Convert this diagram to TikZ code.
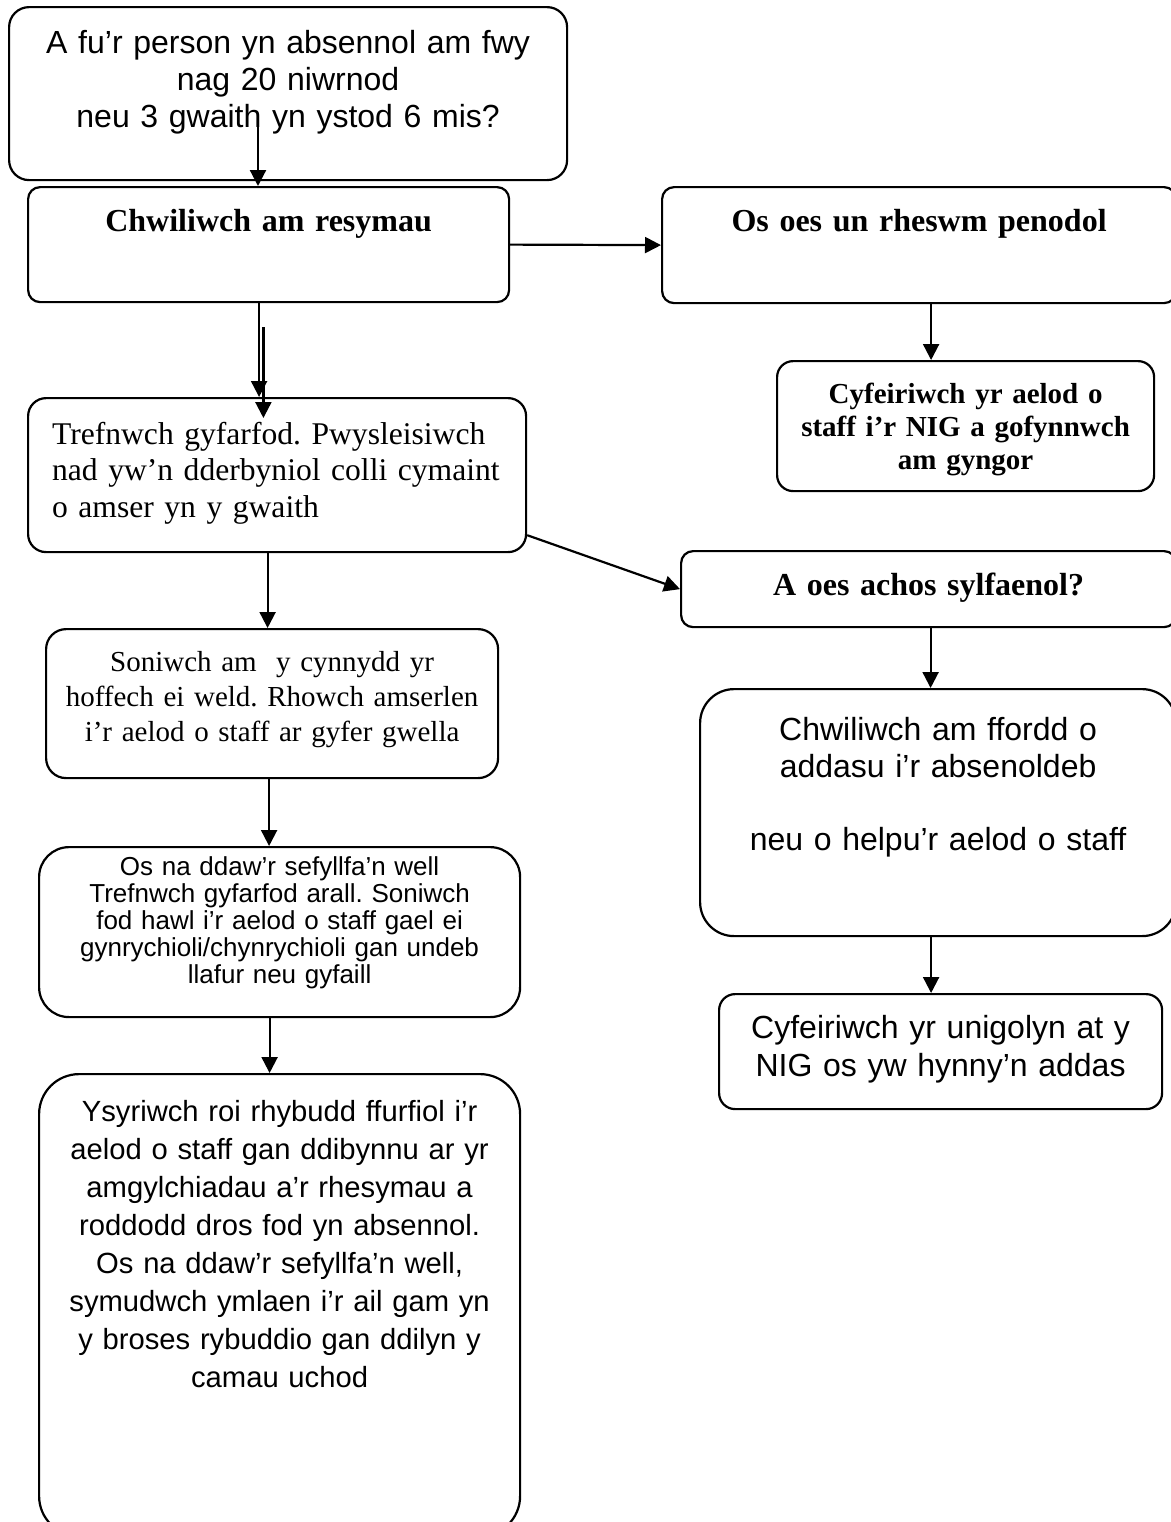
\documentclass[tikz,border=0pt]{standalone}
\usepackage{fontspec}
\newfontfamily\arialfont{Liberation Sans}
\newfontfamily\timesfont{Liberation Serif}
\usetikzlibrary{arrows.meta}
\frenchspacing

\begin{document}
\begin{tikzpicture}[x=0.5pt,y=-0.5pt,->,>={Triangle[length=8pt,width=8pt]},
                    line width=1.1pt,
                    box/.style={draw,rounded corners=#1,anchor=north west,inner sep=0pt,align=center},
                    box/.default=7pt,
                    sans/.style={font=\arialfont\fontsize{16}{18.7}\selectfont},
                    head/.style={font=\timesfont\bfseries\fontsize{16}{18.4}\selectfont}]

  \useasboundingbox (0,0) rectangle (1171,1522);

  % left column
  \node[box=10pt,sans,minimum width=279pt,text width=270pt,text height=23pt,text depth=63.5pt]
    (absent) at (8,6) {A fu’r person yn absennol am fwy\\ nag 20 niwrnod\\ neu 3 gwaith yn ystod 6 mis?};
  \node[box=6pt,head,minimum width=240.5pt,text width=230pt,text height=22pt,text depth=35.5pt]
    (reasons) at (27,186) {Chwiliwch am resymau};
  \node[box=9pt,align=left,minimum width=249pt,text width=225pt,text height=23pt,text depth=54pt,
        font=\timesfont\fontsize{15.8}{18.4}\selectfont]
    (meeting) at (27,397) {Trefnwch gyfarfod. Pwysleisiwch\\ \mbox{nad yw’n dderbyniol colli cymaint}\\ o amser yn y gwaith};
  \node[box=10pt,minimum width=226pt,text width=215pt,text height=21pt,text depth=53.5pt,
        font=\timesfont\fontsize{14.5}{17.5}\selectfont]
    (progress) at (45,628) {Soniwch am\ \ y cynnydd yr\\ hoffech ei weld. Rhowch amserlen\\ i’r aelod o staff ar gyfer gwella};
  \node[box=15pt,minimum width=240.5pt,text width=232pt,text height=14pt,text depth=71pt,
        font=\arialfont\fontsize{13}{13.5}\selectfont]
    (again) at (38,846) {Os na ddaw’r sefyllfa’n well\\ Trefnwch gyfarfod arall. Soniwch\\ fod hawl i’r aelod o staff gael ei\\ gynrychioli/chynrychioli gan undeb\\ llafur neu gyfaill};
  \node[box=20pt,minimum width=240.5pt,text width=232pt,text height=23.5pt,text depth=207.5pt,
        font=\arialfont\fontsize{14.6}{19}\selectfont]
    (warning) at (38,1073) {Ysyriwch roi rhybudd ffurfiol i’r\\ aelod o staff gan ddibynnu ar yr\\ amgylchiadau a’r rhesymau a\\ roddodd dros fod yn absennol.\\ Os na ddaw’r sefyllfa’n well,\\ symudwch ymlaen i’r ail gam yn\\ y broses rybuddio gan ddilyn y\\ camau uchod};

  % right column
  \node[box=6pt,head,minimum width=257pt,text width=240pt,text height=22pt,text depth=36pt]
    (specific) at (661,186) {Os oes un rheswm penodol};
  \node[box=8pt,minimum width=188.5pt,text width=180pt,text height=21pt,text depth=44pt,
        font=\timesfont\bfseries\fontsize{14.5}{16.5}\selectfont]
    (advice) at (776,360) {Cyfeiriwch yr aelod o\\ staff i’r NIG a gofynnwch\\ am gyngor};
  \node[box=6pt,head,minimum width=247.5pt,text width=235pt,text height=22pt,text depth=16pt]
    (cause) at (680,550) {A oes achos sylfaenol?};
  \node[box=17pt,sans,minimum width=238pt,text width=225pt,text height=25.5pt,text depth=98pt]
    (adapt) at (699,688) {Chwiliwch am ffordd o\\ addasu i’r absenoldeb\\[18pt] neu o helpu’r aelod o staff};
  \node[box=8pt,font=\arialfont\fontsize{16}{19}\selectfont,minimum width=221.5pt,text width=215pt,
        text height=22pt,text depth=35.5pt]
    (refer) at (718,993) {Cyfeiriwch yr unigolyn at y\\ NIG os yw hynny’n addas};

  \coordinate (start) at (258,116);

  \draw (start) -- (start |- reasons.north);
  \draw (reasons.east) -- (specific.west);
  \draw ([xshift=6pt]specific.south) -- ([xshift=6pt]specific.south |- advice.north);
  \draw ([xshift=-4.75pt]reasons.south) -- ([xshift=-4.75pt]reasons.south |- meeting.north);
  \draw ([xshift=-2.6pt,yshift=-12pt]reasons.south) -- ([xshift=-2.6pt,yshift=-10.5pt]reasons.south |- meeting.north);
  \draw ([yshift=9pt]meeting.south east) -- (cause.west);
  \draw ([xshift=-4.75pt]meeting.south) -- ([xshift=-4.75pt]meeting.south |- progress.north);
  \draw ([xshift=1pt]cause.south) -- ([xshift=1pt]cause.south |- adapt.north);
  \draw ([xshift=-3.5pt]adapt.south) -- ([xshift=-3.5pt]adapt.south |- refer.north);
  \draw ([xshift=-1.5pt]progress.south) -- ([xshift=-1.5pt]progress.south |- again.north);
  \draw ([xshift=-5pt]again.south) -- ([xshift=-5pt]again.south |- warning.north);
\end{tikzpicture}
\end{document}
